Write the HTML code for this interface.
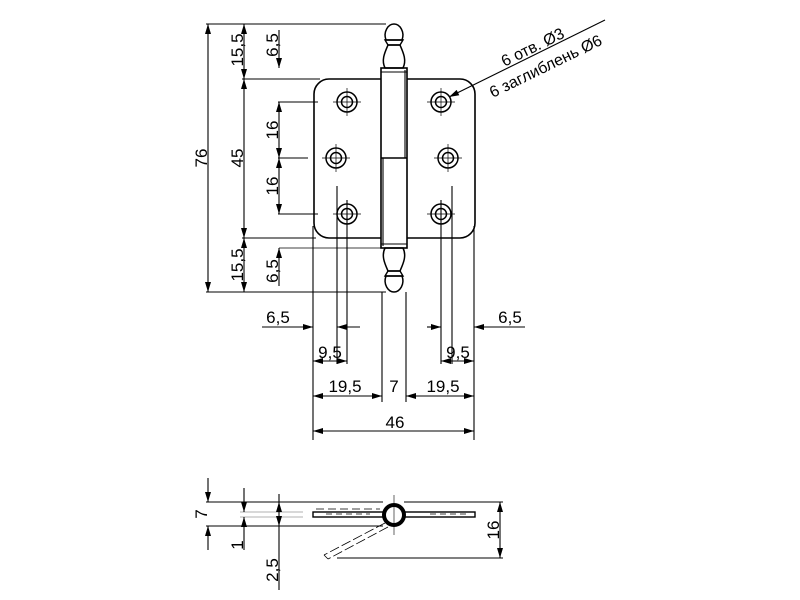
<!DOCTYPE html>
<html><head><meta charset="utf-8"><style>
html,body{margin:0;padding:0;background:#fff;}
svg{display:block;}
text{font-family:"Liberation Sans",sans-serif;font-size:17px;fill:#000;}
</style></head><body>
<svg width="800" height="600" viewBox="0 0 800 600" xmlns="http://www.w3.org/2000/svg">
<defs>
<marker id="a" viewBox="0 0 10 6" refX="10" refY="3" markerWidth="11" markerHeight="6" markerUnits="userSpaceOnUse" orient="auto-start-reverse"><path d="M0,0 L10,3 L0,6 z" fill="#000"/></marker>
</defs>
<g stroke="#000" stroke-width="1.1" fill="none">
<line x1="206" y1="24" x2="386" y2="24"/>
<line x1="242" y1="79" x2="320" y2="79"/>
<line x1="278" y1="102" x2="318" y2="102"/>
<line x1="278" y1="158" x2="308" y2="158"/>
<line x1="278" y1="214" x2="318" y2="214"/>
<line x1="242" y1="238" x2="316" y2="238"/>
<line x1="206" y1="292" x2="386" y2="292"/>
<line x1="208" y1="24" x2="208" y2="292" marker-start="url(#a)" marker-end="url(#a)"/>
<line x1="244" y1="24" x2="244" y2="79" marker-start="url(#a)" marker-end="url(#a)"/>
<line x1="244" y1="79" x2="244" y2="238" marker-start="url(#a)" marker-end="url(#a)"/>
<line x1="244" y1="238" x2="244" y2="292" marker-start="url(#a)" marker-end="url(#a)"/>
<line x1="279" y1="30" x2="279" y2="68" marker-end="url(#a)"/>
<line x1="279" y1="102" x2="279" y2="158" marker-start="url(#a)" marker-end="url(#a)"/>
<line x1="279" y1="158" x2="279" y2="214" marker-start="url(#a)" marker-end="url(#a)"/>
<line x1="279" y1="286" x2="279" y2="248" marker-end="url(#a)"/>
<line x1="279" y1="248" x2="383" y2="248" stroke-width="0.8"/>
<rect x="314" y="79" width="161" height="159" rx="15" stroke-width="1.6"/>
<rect x="381" y="68" width="26" height="180" fill="#fff" stroke-width="1.6"/>
<line x1="381" y1="158" x2="407" y2="158" stroke-width="1.6"/>
<line x1="405" y1="70" x2="405" y2="158"/>
<line x1="383" y1="158" x2="383" y2="246"/>
<line x1="381" y1="72" x2="407" y2="72"/>
<line x1="381" y1="244" x2="407" y2="244"/>
<path d="M385,68 C381,60 385,52 388,45 L400,45 C403,52 407,60 403,68 Z" stroke-width="1.5"/>
<path d="M388,45 L400,45 L403,40 L385,40 Z" stroke-width="1.4"/>
<path d="M386,40 C383,32 388,24 394,24 C400,24 405,32 402,40 Z" stroke-width="1.5"/>
<path d="M385,248 C381,256 385,264 388,271 L400,271 C403,264 407,256 403,248 Z" stroke-width="1.5"/>
<path d="M388,271 L400,271 L403,276 L385,276 Z" stroke-width="1.4"/>
<path d="M386,276 C383,284 388,292 394,292 C400,292 405,284 402,276 Z" stroke-width="1.5"/>
<g stroke-width="1.5">
<circle cx="347" cy="102" r="10"/><circle cx="347" cy="102" r="5.5"/>
<circle cx="336" cy="158" r="10"/><circle cx="336" cy="158" r="5.5"/>
<circle cx="347" cy="214" r="10"/><circle cx="347" cy="214" r="5.5"/>
<circle cx="441" cy="102" r="10"/><circle cx="441" cy="102" r="5.5"/>
<circle cx="448" cy="158" r="10"/><circle cx="448" cy="158" r="5.5"/>
<circle cx="441" cy="214" r="10"/><circle cx="441" cy="214" r="5.5"/>
</g>
<g stroke-width="0.7">
<line x1="333" y1="102" x2="361" y2="102"/><line x1="347" y1="88" x2="347" y2="116"/>
<line x1="322" y1="158" x2="350" y2="158"/><line x1="336" y1="144" x2="336" y2="172"/>
<line x1="333" y1="214" x2="361" y2="214"/>
<line x1="427" y1="102" x2="455" y2="102"/><line x1="441" y1="88" x2="441" y2="116"/>
<line x1="434" y1="158" x2="462" y2="158"/><line x1="448" y1="144" x2="448" y2="172"/>
<line x1="427" y1="214" x2="455" y2="214"/>
</g>
<line x1="313" y1="226" x2="313" y2="440"/>
<line x1="337" y1="186" x2="337" y2="364"/>
<line x1="347" y1="200" x2="347" y2="364"/>
<line x1="382" y1="292" x2="382" y2="402"/>
<line x1="406" y1="292" x2="406" y2="402"/>
<line x1="441" y1="200" x2="441" y2="364"/>
<line x1="452" y1="186" x2="452" y2="364"/>
<line x1="474" y1="226" x2="474" y2="440"/>
<line x1="262" y1="327" x2="313" y2="327" marker-end="url(#a)"/>
<line x1="360" y1="327" x2="337" y2="327" marker-end="url(#a)"/>
<line x1="427" y1="327" x2="441" y2="327" marker-end="url(#a)"/>
<line x1="525" y1="327" x2="474" y2="327" marker-end="url(#a)"/>
<line x1="313" y1="361" x2="347" y2="361" marker-start="url(#a)" marker-end="url(#a)"/>
<line x1="441" y1="361" x2="474" y2="361" marker-start="url(#a)" marker-end="url(#a)"/>
<line x1="313" y1="396" x2="382" y2="396" marker-start="url(#a)" marker-end="url(#a)"/>
<line x1="406" y1="396" x2="474" y2="396" marker-start="url(#a)" marker-end="url(#a)"/>
<line x1="313" y1="431" x2="474" y2="431" marker-start="url(#a)" marker-end="url(#a)"/>
<line x1="605" y1="20" x2="449" y2="97" marker-end="url(#a)"/>
<line x1="206" y1="502" x2="383" y2="502"/>
<line x1="404" y1="502" x2="503" y2="502"/>
<line x1="206" y1="526" x2="383" y2="526"/>
<line x1="337" y1="558" x2="503" y2="558"/>
<g stroke="#999" stroke-width="0.8">
<line x1="240" y1="512" x2="303" y2="512"/>
<line x1="240" y1="517" x2="303" y2="517"/>
</g>
<rect x="313" y="512" width="162" height="5" stroke-width="1.4" fill="#fff"/>
<line x1="316" y1="509" x2="380" y2="509" stroke-dasharray="8,4" stroke-width="0.8"/>
<line x1="326" y1="514" x2="370" y2="514" stroke-dasharray="6,4" stroke-width="0.7"/>
<line x1="430" y1="514" x2="470" y2="514" stroke-dasharray="6,4" stroke-width="0.7"/>
<line x1="385" y1="523" x2="324" y2="555" stroke-dasharray="10,3" stroke-width="0.8"/>
<line x1="388" y1="527" x2="328" y2="559" stroke-dasharray="10,3" stroke-width="0.8"/>
<line x1="324" y1="555" x2="328" y2="559" stroke-width="0.8"/>
<circle cx="394" cy="515" r="10" stroke-width="4" fill="#fff"/>
<line x1="394" y1="495" x2="394" y2="535" stroke-width="0.6"/>
<line x1="208" y1="478" x2="208" y2="502" marker-end="url(#a)"/>
<line x1="208" y1="550" x2="208" y2="526" marker-end="url(#a)"/>
<line x1="244" y1="488" x2="244" y2="512" marker-end="url(#a)"/>
<line x1="244" y1="550" x2="244" y2="517" marker-end="url(#a)"/>
<line x1="279" y1="494" x2="279" y2="502" />
<line x1="279" y1="502" x2="279" y2="526" marker-start="url(#a)" marker-end="url(#a)"/>
<line x1="279" y1="526" x2="279" y2="590"/>
<line x1="500" y1="502" x2="500" y2="558" marker-start="url(#a)" marker-end="url(#a)"/>
</g>
<g>
<text transform="translate(207,158) rotate(-90)" text-anchor="middle">76</text>
<text transform="translate(243,158) rotate(-90)" text-anchor="middle">45</text>
<text transform="translate(243,50) rotate(-90)" text-anchor="middle">15,5</text>
<text transform="translate(243,265) rotate(-90)" text-anchor="middle">15,5</text>
<text transform="translate(278,45) rotate(-90)" text-anchor="middle">6,5</text>
<text transform="translate(278,130) rotate(-90)" text-anchor="middle">16</text>
<text transform="translate(278,186) rotate(-90)" text-anchor="middle">16</text>
<text transform="translate(278,271) rotate(-90)" text-anchor="middle">6,5</text>
<text x="278" y="323" text-anchor="middle">6,5</text>
<text x="510" y="323" text-anchor="middle">6,5</text>
<text x="330" y="358" text-anchor="middle">9,5</text>
<text x="458" y="358" text-anchor="middle">9,5</text>
<text x="345" y="392" text-anchor="middle">19,5</text>
<text x="394" y="392" text-anchor="middle">7</text>
<text x="443" y="392" text-anchor="middle">19,5</text>
<text x="395" y="428" text-anchor="middle">46</text>
<text transform="translate(535,52) rotate(-26)" text-anchor="middle" style="font-size:16px">6 отв. Ø3</text>
<text transform="translate(548,71) rotate(-26)" text-anchor="middle" style="font-size:16px">6 заглиблень Ø6</text>
<text transform="translate(207,514) rotate(-90)" text-anchor="middle">7</text>
<text transform="translate(243,545) rotate(-90)" text-anchor="middle">1</text>
<text transform="translate(278,570) rotate(-90)" text-anchor="middle">2,5</text>
<text transform="translate(499,530) rotate(-90)" text-anchor="middle">16</text>
</g>
</svg>
</body></html>
